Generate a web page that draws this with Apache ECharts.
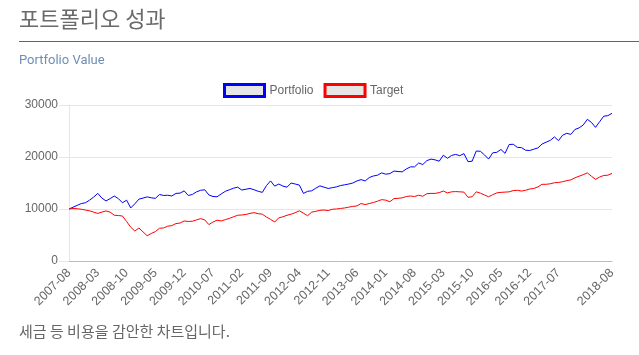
<!DOCTYPE html>
<html>
<head>
<meta charset="utf-8">
<script src="https://cdn.jsdelivr.net/npm/echarts@6/dist/echarts.min.js"></script>
<style>
html,body{margin:0;padding:0;background:#fff;}
#chart{width:639px;height:355px;}
</style>
</head>
<body>
<div id="chart"></div>
<script>
const categories = [
'2007-08','2007-09','2007-10','2007-11','2007-12',
'2008-01','2008-02','2008-03','2008-04','2008-05','2008-06','2008-07','2008-08','2008-09','2008-10','2008-11','2008-12',
'2009-01','2009-02','2009-03','2009-04','2009-05','2009-06','2009-07','2009-08','2009-09','2009-10','2009-11','2009-12',
'2010-01','2010-02','2010-03','2010-04','2010-05','2010-06','2010-07','2010-08','2010-09','2010-10','2010-11','2010-12',
'2011-01','2011-02','2011-03','2011-04','2011-05','2011-06','2011-07','2011-08','2011-09','2011-10','2011-11','2011-12',
'2012-01','2012-02','2012-03','2012-04','2012-05','2012-06','2012-07','2012-08','2012-09','2012-10','2012-11','2012-12',
'2013-01','2013-02','2013-03','2013-04','2013-05','2013-06','2013-07','2013-08','2013-09','2013-10','2013-11','2013-12',
'2014-01','2014-02','2014-03','2014-04','2014-05','2014-06','2014-07','2014-08','2014-09','2014-10','2014-11','2014-12',
'2015-01','2015-02','2015-03','2015-04','2015-05','2015-06','2015-07','2015-08','2015-09','2015-10','2015-11','2015-12',
'2016-01','2016-02','2016-03','2016-04','2016-05','2016-06','2016-07','2016-08','2016-09','2016-10','2016-11','2016-12',
'2017-01','2017-02','2017-03','2017-04','2017-05','2017-06','2017-07','2017-08','2017-09','2017-10','2017-11','2017-12',
'2018-01','2018-02','2018-03','2018-04','2018-05','2018-06','2018-07','2018-08'
];

const portfolio = [
10000,10350,10700,11050,11200,11700,12300,13000,12100,11550,
12000,12500,12000,11200,11700,10200,11000,11900,12100,12330,
12150,12050,12790,12600,12650,12500,13000,13050,13490,12600,
12800,13300,13600,13700,12700,12400,12350,12900,13400,13700,
14000,14200,13650,13800,13950,13700,13400,13200,14500,15400,
14400,14800,14400,14200,15000,14800,14600,13000,13400,13500,
14000,14450,14200,13950,14100,14250,14500,14650,14800,15000,
15400,15650,15400,16050,16350,16500,16950,16700,16800,17300,
17200,17150,17700,18100,18100,18850,18550,19300,19600,19450,
19200,20350,19750,20300,20500,20250,20650,19100,19200,21150,
21100,20400,19600,20800,20900,21450,20700,22400,22450,21850,
21800,21300,21250,21500,21750,22500,22850,23200,23850,23150,
24200,24550,24350,25300,25600,26150,27250,26650,25700,26800,
27850,27950,28400
];

const target = [
10000,10100,10050,9950,9800,9650,9400,9150,9400,9630,
9400,8800,8750,8650,7600,6500,5750,6350,5600,4850,
5300,5650,6300,6350,6700,6800,7200,7300,7700,7600,
7650,7900,8150,7900,7000,7500,7850,7700,7950,8200,
8500,8800,8850,8950,9150,9300,9100,9000,8450,8000,
7500,8300,8500,8800,9000,9300,9650,9200,8700,9400,
9550,9750,9800,9700,9950,10000,10100,10200,10350,10500,
10600,11050,10850,11050,11250,11500,11800,11700,11400,12000,
12050,12150,12400,12500,12400,12650,12450,12950,13000,13000,
13150,13450,13100,13300,13350,13300,13250,12250,12350,13300,
13050,12700,12350,12750,13100,13200,13250,13300,13550,13600,
13450,13600,13850,13950,14250,14750,14750,14850,15050,15100,
15250,15450,15600,16000,16300,16600,16950,16300,15700,16150,
16450,16500,16850
];

const yTicks = [0, 10000, 20000, 30000];
const seriesNames = ['Portfolio', 'Target'];

const chart = echarts.init(document.getElementById('chart'));
const lastIdx = categories.length - 1;

chart.setOption({
  animation: false,
  backgroundColor: '#fff',
  title: [
    { text: '포트폴리오 성과', left: 19, top: 8, padding: 0,
      textStyle: { fontFamily: 'Noto Sans CJK KR', fontSize: 22, fontWeight: 'normal', color: '#6a6a6a' } },
    { text: 'Portfolio Value', left: 19, top: 54, padding: 0,
      textStyle: { fontFamily: 'Roboto', fontSize: 13, fontWeight: 'normal', color: '#6d8fb5' } },
    { text: '세금 등 비용을 감안한 차트입니다.', left: 19, top: 324, padding: 0,
      textStyle: { fontFamily: 'Noto Sans CJK KR', fontSize: 15, fontWeight: 'normal', color: '#666' } }
  ],
  graphic: [
    { type: 'line', shape: { x1: 19, y1: 41.5, x2: 639, y2: 41.5 },
      style: { stroke: '#666', lineWidth: 1 } }
  ],
  legend: {
    left: 223, top: 83, padding: 0,
    itemWidth: 40, itemHeight: 12, itemGap: 10,
    icon: 'rect',
    textStyle: { fontFamily: 'Liberation Sans', fontSize: 12, color: '#666' },
    data: [
      { name: seriesNames[0], itemStyle: { color: '#e6e6e6', borderColor: '#0000ff', borderWidth: 3 } },
      { name: seriesNames[1], itemStyle: { color: '#e6e6e6', borderColor: '#ff0000', borderWidth: 3 } }
    ]
  },
  grid: { left: 69, right: 27, top: 105, bottom: 94, containLabel: false },
  xAxis: {
    type: 'category',
    data: categories,
    boundaryGap: false,
    axisLine: { show: true, lineStyle: { color: '#bbb', width: 1 } },
    axisTick: { show: false },
    splitLine: { show: false },
    axisLabel: {
      rotate: 45,
      margin: 10,
      fontFamily: 'Liberation Sans',
      fontSize: 12.5,
      color: '#666',
      interval: function (i) { return (i % 7 === 0 && i !== 126) || i === lastIdx; }
    }
  },
  yAxis: {
    type: 'value',
    min: yTicks[0], max: yTicks[yTicks.length - 1], interval: 10000,
    axisLine: { show: true, lineStyle: { color: '#e6e6e6' } },
    axisTick: { show: true, length: 10, lineStyle: { color: '#e6e6e6' } },
    splitLine: { show: true, lineStyle: { color: '#e6e6e6' } },
    axisLabel: { margin: 11, fontFamily: 'Liberation Sans', fontSize: 12, color: '#666',
      formatter: function (v) { return String(v); } }
  },
  series: [
    { name: seriesNames[0], type: 'line', data: portfolio, showSymbol: false, symbol: 'none',
      lineStyle: { color: '#0000ff', width: 1 }, itemStyle: { color: '#0000ff' } },
    { name: seriesNames[1], type: 'line', data: target, showSymbol: false, symbol: 'none',
      lineStyle: { color: '#ff0000', width: 1 }, itemStyle: { color: '#ff0000' } }
  ]
});
</script>
</body>
</html>
